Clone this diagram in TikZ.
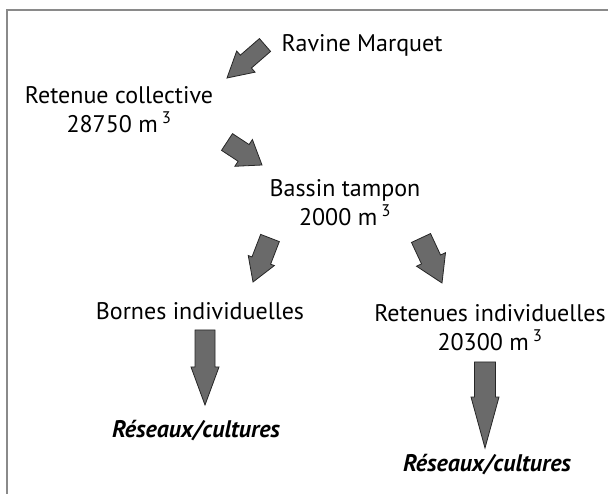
\documentclass[tikz,border=0pt]{standalone}
\usepackage{fontspec}
\setmainfont{PT Sans}
\usetikzlibrary{calc}
\definecolor{arrowfill}{HTML}{6A6A6A}
\definecolor{framegray}{HTML}{8A8A8A}
\tikzset{
  lbl/.style={inner sep=0pt, anchor=base, align=center, font=\fontsize{24}{29}\selectfont},
  res/.style={lbl, font=\fontsize{24}{29}\selectfont\bfseries\itshape},
  blockarrow/.style={fill=arrowfill, draw=black!85, line width=0.8pt, line join=miter}
}
% #1 tail coordinate name, #2 tip coordinate name, #3 shaft half width, #4 head half width, #5 head length
\newcommand\blockarr[5]{%
  \coordinate (#1-h) at ($(#2)!#5pt!(#1)$);
  \draw[blockarrow] ($(#1)!#3pt!90:(#2)$) -- ($(#1-h)!#3pt!90:(#2)$) -- ($(#1-h)!#4pt!90:(#2)$)
    -- (#2) -- ($(#1-h)!#4pt!-90:(#2)$) -- ($(#1-h)!#3pt!-90:(#2)$) -- ($(#1)!#3pt!-90:(#2)$) -- cycle;
}
\begin{document}
\begin{tikzpicture}[x=1pt,y=-1pt]
\useasboundingbox (0,0) rectangle (608,494);
% frame (top and left rules)
\draw[framegray, line width=1.5pt] (7,494) -- (7,10) -- (608,10);
% text nodes (anchor = baseline of the last line)
\node[lbl] (ravine) at (362,52) {Ravine Marquet};
\node[lbl] (retcol) at (119,133) {Retenue collective\\28750 m\,\textsuperscript{3}};
\node[lbl] (bassin) at (345,226) {Bassin tampon\\2000 m\,\textsuperscript{3}};
\node[lbl] (bornes) at (200,320) {Bornes individuelles};
\node[lbl] (retind) at (490,351) {Retenues individuelles\\20300 m\,\textsuperscript{3}};
\node[res] (res1) at (196,437) {Réseaux/cultures};
\node[res] (res2) at (487,471) {Réseaux/cultures};
% arrow end points
\coordinate (a1t) at (265,45);  \coordinate (a1p) at (227,78);
\coordinate (a2t) at (227,142); \coordinate (a2p) at (262,165);
\coordinate (a3t) at (270,238); \coordinate (a3p) at (253,282);
\coordinate (a4t) at (421,238); \coordinate (a4p) at (442,283);
\coordinate (a5t) at (205,330); \coordinate (a5p) at (205,405);
\coordinate (a6t) at (485,362); \coordinate (a6p) at (485,448);
\blockarr{a1t}{a1p}{8.5}{14}{25}
\blockarr{a2t}{a2p}{10}{16}{22}
\blockarr{a3t}{a3p}{10}{14}{23}
\blockarr{a4t}{a4p}{10.5}{16}{26}
\blockarr{a5t}{a5p}{10}{14}{38}
\blockarr{a6t}{a6p}{10.5}{14}{51}
\end{tikzpicture}
\end{document}
